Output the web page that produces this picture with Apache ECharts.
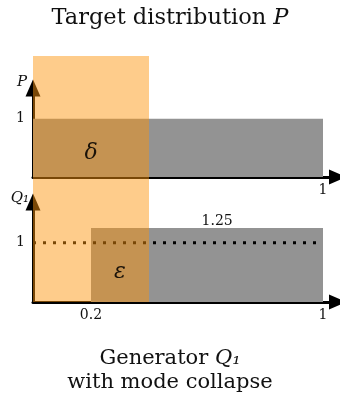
<!DOCTYPE html>
<html><head><meta charset="utf-8">
<script src="https://cdn.jsdelivr.net/npm/echarts@6/dist/echarts.min.js"></script>
<style>html,body{margin:0;padding:0;background:#fff}#c{width:340px;height:398px}</style>
</head><body><div id="c"></div>
<script>
// ---- data ----
const xMax = 1.05;
const pRects = [[0, 1, 1]];            // [x0, x1, density] of target P
const qRects = [[0.2, 1, 1.25]];       // [x0, x1, density] of generator Q1
const collapseBand = [[0, 0.4]];       // missed mode region
const qLevel = [[0, 1], [1, 1]];       // reference level 1 in Q1 panel
const pXTicks = [1];
const qXTicks = [0.2, 1];
const yTicks = [1];
const pLabels = [[0.2, 0.4, 'δ']];
const qLabels = [[0.3, 0.5, 'ε'], [0.635, 1.25, '1.25']];

const serif = 'DejaVu Serif';
const chart = echarts.init(document.getElementById('c'));

function rectItem(fill) {
  return function (params, api) {
    const a = api.coord([api.value(0), api.value(2)]);
    const b = api.coord([api.value(1), 0]);
    return { type: 'rect', shape: { x: a[0], y: a[1], width: b[0] - a[0], height: b[1] - a[1] }, style: { fill: fill } };
  };
}
function bandItem(params, api) {
  const a = api.coord([api.value(0), 1]);
  const b = api.coord([api.value(1), 0]);
  return { type: 'rect', shape: { x: a[0], y: a[1], width: b[0] - a[0], height: b[1] - a[1] }, style: { fill: 'rgba(253,148,12,0.48)' } };
}
function textItem(params, api) {
  const p = api.coord([api.value(0), api.value(1)]);
  const t = api.value(2);
  const isNum = /\d/.test(t);
  return { type: 'text', x: p[0], y: p[1], style: {
    text: t, fill: isNum ? '#111' : '#1a1208',
    font: isNum ? '14px "DejaVu Serif"' : 'italic 22px "DejaVu Serif"',
    align: 'center', verticalAlign: isNum ? 'bottom' : 'middle'
  } };
}

const axisLine = { lineStyle: { color: '#000', width: 3 }, symbol: ['none', 'triangle'], symbolSize: [15, 17] };
const tStyle = { fontFamily: serif, fontSize: 21, fontWeight: 'normal', color: '#111',
  rich: { i: { fontFamily: serif, fontStyle: 'italic', fontSize: 21, color: '#111' } } };

const option = {
  animation: false,
  title: [
    { text: 'Target distribution {i|P}', left: 'center', top: 2,
      textStyle: Object.assign({}, tStyle, { fontSize: 22.5, rich: { i: { fontFamily: serif, fontStyle: 'italic', fontSize: 22.5, color: '#111' } } }) },
    { text: 'Generator {i|Q₁}', left: 'center', top: 343, textStyle: tStyle },
    { text: 'with mode collapse', left: 'center', top: 367, textStyle: tStyle }
  ],
  grid: [
    { left: 33, width: 304.5, top: 88, height: 89 },
    { left: 33, width: 304.5, top: 202, height: 100 },
    { left: 33, width: 304.5, top: 56, height: 246 }
  ],
  xAxis: [
    { gridIndex: 0, type: 'value', min: 0, max: xMax, axisLine: axisLine, axisTick: { show: false }, splitLine: { show: false },
      axisLabel: { customValues: pXTicks, margin: 6, fontFamily: serif, fontSize: 14, color: '#111' } },
    { gridIndex: 1, type: 'value', min: 0, max: xMax, axisLine: axisLine, axisTick: { show: false }, splitLine: { show: false },
      axisLabel: { customValues: qXTicks, margin: 6, fontFamily: serif, fontSize: 14, color: '#111' } },
    { gridIndex: 2, type: 'value', min: 0, max: xMax, show: false }
  ],
  yAxis: [
    { gridIndex: 0, type: 'value', min: 0, max: 1.53, axisLine: axisLine, axisTick: { show: false }, splitLine: { show: false },
      axisLabel: { customValues: yTicks, margin: 8, fontFamily: serif, fontSize: 14, color: '#111' },
      name: 'P', nameLocation: 'end', nameGap: 6,
      nameTextStyle: { fontFamily: serif, fontStyle: 'italic', fontSize: 15, color: '#111', align: 'right', verticalAlign: 'middle', padding: [0, 6, 0, 0] } },
    { gridIndex: 1, type: 'value', min: 0, max: 1.69, axisLine: axisLine, axisTick: { show: false }, splitLine: { show: false },
      axisLabel: { customValues: yTicks, margin: 8, fontFamily: serif, fontSize: 14, color: '#111' },
      name: 'Q₁', nameLocation: 'end', nameGap: 4,
      nameTextStyle: { fontFamily: serif, fontStyle: 'italic', fontSize: 15, color: '#111', align: 'right', verticalAlign: 'middle', padding: [0, 4, 0, 0] } },
    { gridIndex: 2, type: 'value', min: 0, max: 1, show: false }
  ],
  series: [
    { type: 'custom', xAxisIndex: 0, yAxisIndex: 0, data: pRects, renderItem: rectItem('#939393'), encode: { x: [0, 1], y: 2 }, z: 1 },
    { type: 'custom', xAxisIndex: 1, yAxisIndex: 1, data: qRects, renderItem: rectItem('#939393'), encode: { x: [0, 1], y: 2 }, z: 1 },
    { type: 'line', xAxisIndex: 1, yAxisIndex: 1, data: qLevel, symbol: 'none', z: 2,
      lineStyle: { color: '#000', width: 3, type: [3, 7], cap: 'butt' } },
    { type: 'custom', xAxisIndex: 2, yAxisIndex: 2, data: collapseBand, renderItem: bandItem, encode: { x: [0, 1] }, z: 5, clip: false },
    { type: 'custom', xAxisIndex: 0, yAxisIndex: 0, data: pLabels, renderItem: textItem, z: 6, clip: false },
    { type: 'custom', xAxisIndex: 1, yAxisIndex: 1, data: qLabels, renderItem: textItem, z: 6, clip: false }
  ]
};
chart.setOption(option);
</script></body></html>
